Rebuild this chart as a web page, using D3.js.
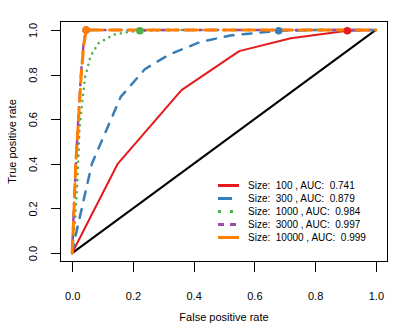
<!DOCTYPE html>
<html>
<head>
<meta charset="utf-8">
<script src="https://cdn.jsdelivr.net/npm/d3@7"></script>
<style>
  body { margin: 0; background: #fff; }
  svg { display: block; font-family: "Liberation Sans", Arial, sans-serif; }
  .legend text { white-space: pre; }
</style>
</head>
<body>
<div class="chart"></div>
<script>
// data: [false positive rate, true positive rate]
const roc100 = [[0, 0], [0.15, 0.40], [0.36, 0.73], [0.55, 0.905], [0.72, 0.963], [0.906, 0.996], [1, 1]];
const roc300 = [[0, 0], [0.01, 0.07], [0.065, 0.40], [0.16, 0.70], [0.24, 0.825], [0.32, 0.89], [0.42, 0.945], [0.52, 0.975], [0.68, 0.996], [0.8, 1], [1, 1]];
const roc1000 = [[0, 0], [0.01, 0.15], [0.018, 0.35], [0.024, 0.55], [0.032, 0.66], [0.043, 0.79], [0.06, 0.88], [0.086, 0.94], [0.136, 0.978], [0.18, 0.99], [0.223, 0.996], [0.35, 1], [1, 1]];
const roc3000 = [[0, 0], [0.005, 0.18], [0.013, 0.42], [0.021, 0.62], [0.029, 0.8], [0.037, 0.93], [0.044, 0.99], [0.06, 1], [1, 1]];
const roc10000 = [[0, 0], [0.005, 0.15], [0.012, 0.4], [0.021, 0.6], [0.03, 0.8], [0.038, 0.93], [0.046, 1], [1, 1]];
// highlighted points on each curve
const markers = [[0.906, 0.996], [0.68, 0.996], [0.223, 0.996], [0.046, 1], [0.046, 1]];
const sizes = ['100', '300', '1000', '3000', '10000'];
const aucs = ['0.741', '0.879', '0.984', '0.997', '0.999'];
const diagonal = [[0, 0], [1, 1]];
const ticks = [0, 0.2, 0.4, 0.6, 0.8, 1];

const curves = [roc100, roc300, roc1000, roc3000, roc10000];
const colors = ['#E41A1C', '#377EB8', '#4DAF4A', '#984EA3', '#FF7F00'];
const widths = [2, 2.5, 2.5, 2.5, 3];
const dashes = [null, '9,9', '0.1,6', '2,6,10,6', '12,7'];
const legendDashes = [null, '14,20', '3,9', '6,6', null];

const width = 409;
const height = 327;
const box = { left: 60, right: 388, top: 21, bottom: 262 };

const svg = d3.select('.chart')
  .append('svg')
    .attr('width', width)
    .attr('height', height);

const x = d3.scaleLinear().domain([-0.04, 1.04]).range([box.left, box.right]);
const y = d3.scaleLinear().domain([-0.04, 1.04]).range([box.bottom, box.top]);

const line = d3.line()
  .x(d => x(d[0]))
  .y(d => y(d[1]));

// chance line
svg.append('path')
  .datum(diagonal)
  .attr('d', line)
  .attr('fill', 'none')
  .attr('stroke', '#000')
  .attr('stroke-width', 2);

curves.forEach((c, i) => {
  svg.append('path')
    .datum(c)
    .attr('d', line)
    .attr('fill', 'none')
    .attr('stroke', colors[i])
    .attr('stroke-width', widths[i])
    .attr('stroke-linecap', 'round')
    .attr('stroke-linejoin', 'round')
    .attr('stroke-dasharray', dashes[i]);
});

svg.selectAll('circle.marker')
  .data(markers)
  .enter()
  .append('circle')
    .attr('class', 'marker')
    .attr('cx', d => x(d[0]))
    .attr('cy', d => y(d[1]))
    .attr('r', 3.8)
    .attr('fill', (d, i) => colors[i]);

// box
svg.append('rect')
  .attr('x', box.left + 0.5)
  .attr('y', box.top + 0.5)
  .attr('width', box.right - box.left - 1)
  .attr('height', box.bottom - box.top - 1)
  .attr('fill', 'none')
  .attr('stroke', '#000')
  .attr('shape-rendering', 'crispEdges');

// axes
const xAxis = svg.append('g')
  .attr('transform', `translate(0, ${box.bottom - 0.5})`)
  .call(d3.axisBottom(x).tickValues(ticks).tickFormat(d3.format('.1f')).tickSize(10).tickPadding(21));
xAxis.select('.domain').remove();
xAxis.selectAll('text').attr('font-size', 11).attr('fill', '#000').attr('font-family', null);
xAxis.selectAll('line').attr('shape-rendering', 'crispEdges');

const yAxis = svg.append('g')
  .attr('transform', `translate(${box.left + 0.5}, 0)`)
  .call(d3.axisLeft(y).tickValues(ticks).tickFormat(d3.format('.1f')).tickSize(10));
yAxis.select('.domain').remove();
yAxis.selectAll('line').attr('shape-rendering', 'crispEdges');
yAxis.selectAll('text')
  .attr('x', null)
  .attr('dy', null)
  .attr('font-size', 11)
  .attr('font-family', null)
  .attr('fill', '#000')
  .attr('text-anchor', 'middle')
  .attr('transform', 'translate(-23.5, 0) rotate(-90)');

svg.append('text')
  .attr('x', (x(0) + x(1)) / 2)
  .attr('y', 321)
  .attr('text-anchor', 'middle')
  .attr('font-size', 11)
  .text('False positive rate');

svg.append('text')
  .attr('transform', `translate(16, ${(y(0) + y(1)) / 2}) rotate(-90)`)
  .attr('text-anchor', 'middle')
  .attr('font-size', 11)
  .text('True positive rate');

// legend
const legend = svg.append('g').attr('class', 'legend');
const rows = legend.selectAll('g')
  .data(sizes)
  .enter()
  .append('g')
    .attr('transform', (d, i) => `translate(218, ${185.5 + i * 13})`);

rows.append('line')
  .attr('x1', 0)
  .attr('x2', 21)
  .attr('stroke', (d, i) => colors[i])
  .attr('stroke-width', 3)
  .attr('stroke-dasharray', (d, i) => legendDashes[i]);

rows.append('text')
  .attr('x', 30)
  .attr('dy', '0.35em')
  .attr('font-size', 10)
  .attr('xml:space', 'preserve')
  .text((d, i) => `Size:  ${d} , AUC:  ${aucs[i]}`);
</script>
</body>
</html>
